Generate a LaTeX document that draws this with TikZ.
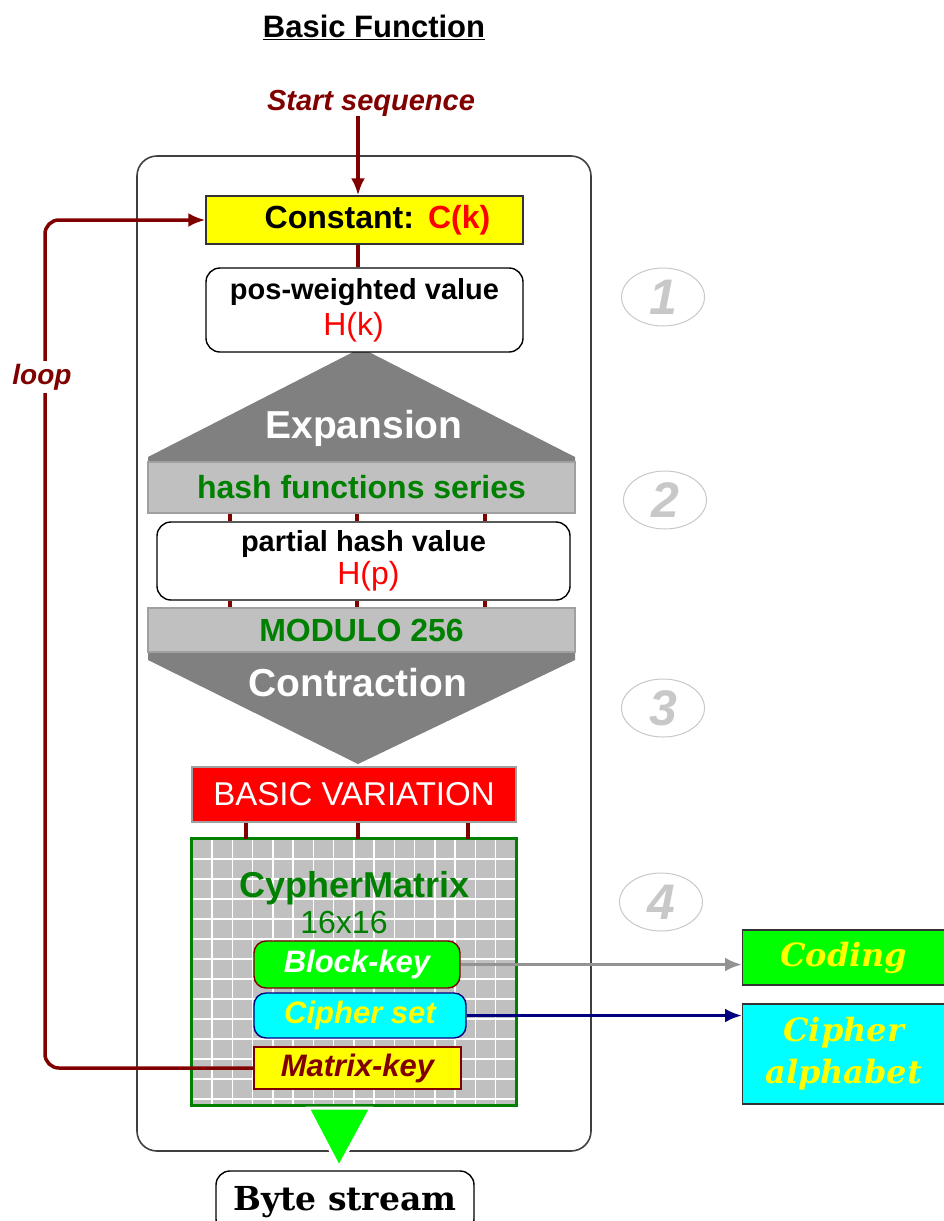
\documentclass[tikz,border=0pt]{standalone}
\usepackage{fontspec}
\setmainfont{Liberation Sans}
\newfontfamily\serifbf{DejaVu Serif}
\usetikzlibrary{shapes.geometric,arrows.meta,positioning,calc}

\definecolor{darkred}{HTML}{800000}
\definecolor{darkgreen}{HTML}{008000}
\definecolor{shapegray}{HTML}{808080}
\definecolor{barfill}{HTML}{C0C0C0}
\definecolor{barline}{HTML}{A0A0A0}
\definecolor{limegreen}{HTML}{00FF00}
\definecolor{navyblue}{HTML}{000080}
\definecolor{numgray}{HTML}{C8C8C8}
\definecolor{pureyellow}{HTML}{FFFF00}
\definecolor{purecyan}{HTML}{00FFFF}
\definecolor{purered}{HTML}{FF0000}

\tikzset{
  every node/.style={inner sep=0pt},
  titletext/.style={font=\bfseries\fontsize{31}{34}\selectfont},
  redlabel/.style={text=darkred, font=\bfseries\itshape\fontsize{29}{32}\selectfont},
  redarrow/.style={draw=darkred, line width=3.5pt, -{Latex[length=17pt,width=14pt]}},
  redline/.style={draw=darkred, line width=3.5pt},
  roundbox/.style={draw=black, line width=1.4pt, rounded corners=14pt, fill=white, align=center},
  bar/.style={draw=barline, fill=barfill, line width=1.4pt, text=darkgreen, font=\bfseries\fontsize{32}{36}\selectfont},
  bigwhite/.style={text=white, font=\bfseries\fontsize{39}{42}\selectfont},
  keybox/.style={line width=1.4pt, rounded corners=12pt, font=\bfseries\itshape\fontsize{31}{34}\selectfont},
  outbox/.style={draw=black!80, line width=1.4pt, font=\serifbf\bfseries\itshape\fontsize{32}{42}\selectfont, text=pureyellow, align=center},
  stepnum/.style={ellipse, draw=numgray, line width=1pt, minimum width=83pt, minimum height=58pt, text=numgray, font=\bfseries\itshape\fontsize{50}{50}\selectfont},
  gridline/.style={draw=white, line width=1.5pt}
}

\begin{document}
\begin{tikzpicture}[x=1pt, y=-1pt]
\useasboundingbox (0,0) rectangle (943,1221);

% outer frame
\draw[draw=black!75, line width=1.6pt, rounded corners=20pt] (137,156) rectangle (591,1151);

% title and start
\node[titletext] (title) at (374,27) {\underline{Basic Function}};
\node[redlabel] (start) at (371,103) {Start sequence};
\coordinate (entry) at (358,0);

% expansion / contraction shapes
\fill[shapegray] (148,462) -- (148,457) -- (361,348) -- (575,457) -- (575,462) -- cycle;
\fill[shapegray] (148,650) -- (148,660) -- (358,764) -- (575,660) -- (575,650) -- cycle;

\node[draw=black!80, fill=pureyellow, line width=1.4pt, minimum width=317pt, minimum height=48pt,
  font=\bfseries\fontsize{32}{34}\selectfont] (const) at (364.5,220)
  {\hspace*{26pt}Constant:\hspace{14pt}\textcolor{purered}{C(k)}};
\node[roundbox, minimum width=317pt, minimum height=84pt] (posw) at (364.5,310)
  {\fontsize{29}{37}\selectfont\bfseries pos-weighted value\\[6pt]
   \fontsize{32}{37}\selectfont\color{purered}\hspace*{-22pt}H(k)};

\node[bigwhite] (expl) at (364,428) {Expansion};
\node[bar, minimum width=427pt, minimum height=51pt] (hashbar) at (361.5,487.5) {hash functions series};
\node[roundbox, minimum width=413pt, minimum height=78pt] (partial) at (363.5,561)
  {\fontsize{29}{36}\selectfont\bfseries partial hash value\\[3pt]
   \fontsize{32}{36}\selectfont\color{purered}\hspace*{10pt}H(p)};
\node[bar, minimum width=427pt, minimum height=44pt] (modbar) at (361.5,630) {MODULO 256};
\node[bigwhite] (contr) at (358,683) {Contraction};

\draw[redarrow] (entry |- start.south) -- (entry |- const.north);
\draw[redline] (entry |- const.south) -- (entry |- posw.north);
\foreach \x in {230,357,485} {
  \draw[redline] (\x,0 |- hashbar.south) -- (\x,0 |- partial.north);
  \draw[redline] (\x,0 |- partial.south) -- (\x,0 |- modbar.north);
}

% basic variation and matrix
\node[draw=barline, fill=purered, line width=1.4pt, minimum width=324pt, minimum height=55pt,
  text=white, font=\fontsize{33}{36}\selectfont] (bvar) at (354,794.5) {BASIC VARIATION};
\node[fill=barfill, minimum width=324pt, minimum height=266pt] (cmatrix) at (354,972) {};
\foreach \i in {1,...,15}
  \draw[gridline] ($(cmatrix.north west)+(\i*20.25,0)$) -- ($(cmatrix.south west)+(\i*20.25,0)$);
\foreach \j in {1,...,13}
  \draw[gridline] ($(cmatrix.north west)+(0,\j*20)$) -- ($(cmatrix.north east)+(0,\j*20)$);
\draw[draw=darkgreen, line width=3pt] (cmatrix.north west) rectangle (cmatrix.south east);
\foreach \x in {246,358,468}
  \draw[redline] (\x,0 |- bvar.south) -- (\x,0 |- cmatrix.north);

\node[text=darkgreen, font=\bfseries\fontsize{36}{38}\selectfont] (cmname) at (355,888) {CypherMatrix};
\node[text=darkgreen, font=\fontsize{32}{34}\selectfont] (cmsize) at (344,922) {16x16};
\node[keybox, draw=darkred, fill=limegreen, text=white, minimum width=206pt, minimum height=47pt] (bkey) at (357,964.5) {Block-key};
\node[keybox, draw=navyblue, fill=purecyan, text=pureyellow, minimum width=212pt, minimum height=45pt] (cset) at (360,1015.5) {Cipher set};
\node[keybox, rounded corners=0pt, draw=darkred, fill=pureyellow, text=darkred, minimum width=207pt, minimum height=42pt] (mkey) at (357.5,1068) {Matrix-key};

% output
\fill[limegreen, draw=white, line width=3pt] (308,1108) -- (371,1108) -- (339,1167) -- cycle;
\node[roundbox, minimum width=258pt, minimum height=62pt, font=\serifbf\bfseries\fontsize{33}{36}\selectfont] (bytes) at (345,1202) {Byte stream};

\node[outbox, fill=limegreen, minimum width=220pt, minimum height=55pt, anchor=west] (coding) at (742,957.5) {\hspace*{-18pt}Coding};
\node[outbox, fill=purecyan, minimum width=220pt, minimum height=100pt, anchor=west] (calph) at (742,1054) {\hspace*{-18pt}Cipher\\\hspace*{-18pt}alphabet};

\draw[draw=gray!85, line width=3.5pt, -{Latex[length=17pt,width=14pt]}] (bkey.east) -- (bkey.east -| coding.west);
\draw[draw=navyblue, line width=3.5pt, -{Latex[length=17pt,width=14pt]}] (cset.east) -- (cset.east -| calph.west);

% loop back
\coordinate (loopx) at (45,0);
\draw[redarrow, rounded corners=14pt] (mkey.west) -| (loopx |- const.west) -- (const.west);
\node[redlabel, fill=white, inner ysep=3pt, font=\bfseries\itshape\fontsize{28}{30}\selectfont] (looptxt) at (42,377) {loop};

% step numbers
\node[stepnum] (s1) at (663,297) {1};
\node[stepnum] (s2) at (665,500) {2};
\node[stepnum] (s3) at (663,708) {3};
\node[stepnum] (s4) at (661,902) {4};
\end{tikzpicture}
\end{document}
